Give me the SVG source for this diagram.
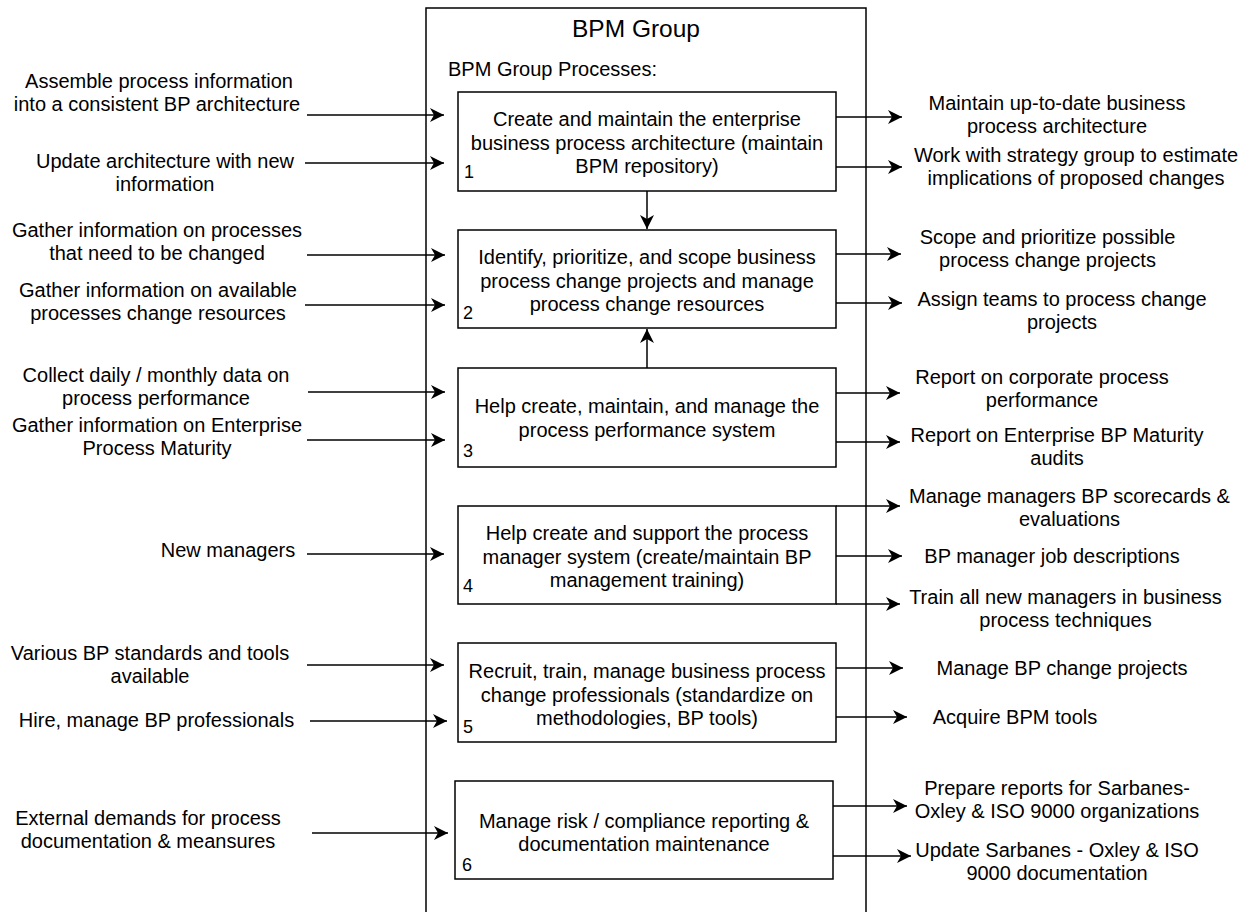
<svg xmlns="http://www.w3.org/2000/svg" width="1245" height="912" viewBox="0 0 1245 912">
  <style>
    text { font-family: "Liberation Sans", Arial, Helvetica, sans-serif; font-size: 20px; fill: #000; }
    .c { text-anchor: middle; }
    .num { font-size: 18px; }
    .title { font-size: 24.5px; text-anchor: middle; }
    .box { fill: #fff; stroke: #000; stroke-width: 1.5; }
    .frame { fill: #fff; stroke: #000; stroke-width: 1.5; }
    .edge { fill: none; stroke: #000; stroke-width: 1.5; marker-end: url(#arrow); }
  </style>
  <defs>
    <marker id="arrow" markerUnits="userSpaceOnUse" viewBox="-14 -7 14 14" refX="0" refY="0" markerWidth="14" markerHeight="14" orient="auto">
      <path d="M-14,-7 L0,0 L-14,7 L-10,0 Z" fill="#000"/>
    </marker>
  </defs>

  <rect width="1245" height="912" fill="#fff"/>

  <!-- container -->
  <g id="bpm-group">
    <rect class="frame" x="426" y="8" width="440" height="920"/>
    <text class="title" x="636" y="37">BPM Group</text>
    <text x="448" y="76">BPM Group Processes:</text>
  </g>

  <!-- process boxes -->
  <g id="p1">
    <rect class="box" x="458" y="92" width="378" height="99"/>
    <text class="c" x="647" y="126">Create and maintain the enterprise</text>
    <text class="c" x="647" y="149.5">business process architecture (maintain</text>
    <text class="c" x="647" y="173">BPM repository)</text>
    <text class="num" x="464" y="178">1</text>
  </g>
  <g id="p2">
    <rect class="box" x="458" y="230" width="378" height="98"/>
    <text class="c" x="647" y="264">Identify, prioritize, and scope business</text>
    <text class="c" x="647" y="287.5">process change projects and manage</text>
    <text class="c" x="647" y="311">process change resources</text>
    <text class="num" x="463" y="319">2</text>
  </g>
  <g id="p3">
    <rect class="box" x="458" y="368" width="378" height="99"/>
    <text class="c" x="647" y="413">Help create, maintain, and manage the</text>
    <text class="c" x="647" y="436.5">process performance system</text>
    <text class="num" x="463" y="457">3</text>
  </g>
  <g id="p4">
    <rect class="box" x="458" y="506" width="378" height="98"/>
    <text class="c" x="647" y="540">Help create and support the process</text>
    <text class="c" x="647" y="563.5">manager system (create/maintain BP</text>
    <text class="c" x="647" y="587">management training)</text>
    <text class="num" x="463" y="592">4</text>
  </g>
  <g id="p5">
    <rect class="box" x="458" y="643" width="378" height="99"/>
    <text class="c" x="647" y="678">Recruit, train, manage business process</text>
    <text class="c" x="647" y="701.5">change professionals (standardize on</text>
    <text class="c" x="647" y="725">methodologies, BP tools)</text>
    <text class="num" x="463" y="733">5</text>
  </g>
  <g id="p6">
    <rect class="box" x="455" y="781" width="378" height="98"/>
    <text class="c" x="644" y="828">Manage risk / compliance reporting &amp;</text>
    <text class="c" x="644" y="851">documentation maintenance</text>
    <text class="num" x="462" y="871">6</text>
  </g>

  <!-- inputs -->
  <g id="inputs">
    <text class="c" x="159" y="88">Assemble process information</text>
    <text class="c" x="157" y="111">into a consistent BP architecture</text>
    <text class="c" x="165" y="167.5">Update architecture with new</text>
    <text class="c" x="165" y="190.5">information</text>
    <text class="c" x="157" y="237">Gather information on processes</text>
    <text class="c" x="157" y="260">that need to be changed</text>
    <text class="c" x="158" y="297">Gather information on available</text>
    <text class="c" x="158" y="320">processes change resources</text>
    <text class="c" x="156" y="382">Collect daily / monthly data on</text>
    <text class="c" x="156" y="405">process performance</text>
    <text class="c" x="157" y="432">Gather information on Enterprise</text>
    <text class="c" x="157" y="455">Process Maturity</text>
    <text class="c" x="228" y="557">New managers</text>
    <text class="c" x="150" y="659.5">Various BP standards and tools</text>
    <text class="c" x="150" y="682.5">available</text>
    <text class="c" x="156.5" y="727">Hire, manage BP professionals</text>
    <text class="c" x="148" y="824.5">External demands for process</text>
    <text class="c" x="148" y="847.5">documentation &amp; meansures</text>
  </g>

  <!-- outputs -->
  <g id="outputs">
    <text class="c" x="1057" y="110">Maintain up-to-date business</text>
    <text class="c" x="1057" y="133">process architecture</text>
    <text class="c" x="1076" y="162">Work with strategy group to estimate</text>
    <text class="c" x="1076" y="185">implications of proposed changes</text>
    <text class="c" x="1047.5" y="243.5">Scope and prioritize possible</text>
    <text class="c" x="1047.5" y="266.5">process change projects</text>
    <text class="c" x="1062" y="306">Assign teams to process change</text>
    <text class="c" x="1062" y="329">projects</text>
    <text class="c" x="1042" y="383.5">Report on corporate process</text>
    <text class="c" x="1042" y="406.5">performance</text>
    <text class="c" x="1057" y="442">Report on Enterprise BP Maturity</text>
    <text class="c" x="1057" y="465">audits</text>
    <text class="c" x="1069.5" y="503">Manage managers BP scorecards &amp;</text>
    <text class="c" x="1069.5" y="526">evaluations</text>
    <text class="c" x="1052" y="562.5">BP manager job descriptions</text>
    <text class="c" x="1065.5" y="603.5">Train all new managers in business</text>
    <text class="c" x="1065.5" y="626.5">process techniques</text>
    <text class="c" x="1062" y="675">Manage BP change projects</text>
    <text class="c" x="1015" y="724">Acquire BPM tools</text>
    <text class="c" x="1057" y="795">Prepare reports for Sarbanes-</text>
    <text class="c" x="1057" y="818">Oxley &amp; ISO 9000 organizations</text>
    <text class="c" x="1057" y="857">Update Sarbanes - Oxley &amp; ISO</text>
    <text class="c" x="1057" y="880">9000 documentation</text>
  </g>

  <!-- connectors -->
  <g id="connectors">
    <line class="edge" x1="307" y1="115" x2="444" y2="115"/>
    <line class="edge" x1="305" y1="163" x2="444" y2="163"/>
    <line class="edge" x1="307" y1="255" x2="445" y2="255"/>
    <line class="edge" x1="305" y1="305" x2="445" y2="305"/>
    <line class="edge" x1="308" y1="392" x2="445" y2="392"/>
    <line class="edge" x1="307" y1="440" x2="445" y2="440"/>
    <line class="edge" x1="307" y1="554" x2="444" y2="554"/>
    <line class="edge" x1="307" y1="665" x2="444" y2="665"/>
    <line class="edge" x1="310" y1="721" x2="447" y2="721"/>
    <line class="edge" x1="312" y1="833" x2="448" y2="833"/>

    <line class="edge" x1="647" y1="191" x2="647" y2="229"/>
    <line class="edge" x1="647" y1="368" x2="647" y2="329"/>

    <line class="edge" x1="836" y1="117" x2="902" y2="117"/>
    <line class="edge" x1="836" y1="167" x2="902" y2="167"/>
    <line class="edge" x1="836" y1="254" x2="901" y2="254"/>
    <line class="edge" x1="836" y1="303" x2="902" y2="303"/>
    <line class="edge" x1="836" y1="393" x2="900" y2="393"/>
    <line class="edge" x1="836" y1="442" x2="900" y2="442"/>
    <line class="edge" x1="836" y1="506" x2="900" y2="506"/>
    <line class="edge" x1="836" y1="556" x2="902" y2="556"/>
    <line class="edge" x1="836" y1="604" x2="900" y2="604"/>
    <line class="edge" x1="836" y1="668" x2="903" y2="668"/>
    <line class="edge" x1="836" y1="717" x2="907" y2="717"/>
    <line class="edge" x1="833" y1="806" x2="907" y2="806"/>
    <line class="edge" x1="833" y1="856" x2="911" y2="856"/>
  </g>
</svg>
